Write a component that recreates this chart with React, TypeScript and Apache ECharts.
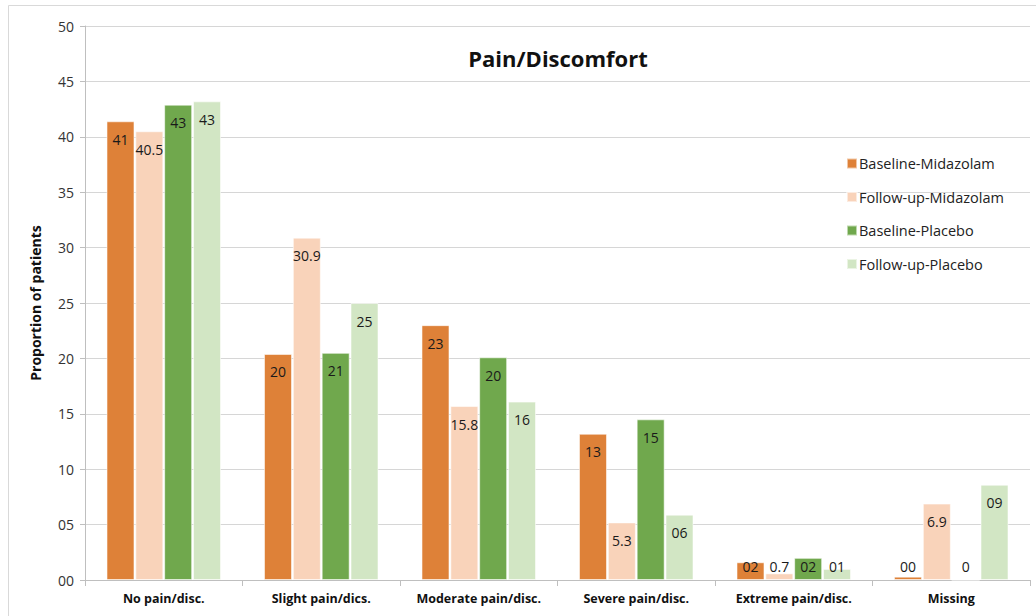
import React, { useEffect, useRef } from "react";
import * as echarts from "echarts";

const categories = [
  "No pain/disc.",
  "Slight pain/dics.",
  "Moderate pain/disc.",
  "Severe pain/disc.",
  "Extreme pain/disc.",
  "Missing",
];
const seriesNames = [
  "Baseline-Midazolam",
  "Follow-up-Midazolam",
  "Baseline-Placebo",
  "Follow-up-Placebo",
];
const baselineMidazolam = [41.4, 20.4, 23.0, 13.2, 1.6, 0.3];
const followupMidazolam = [40.5, 30.9, 15.7, 5.2, 0.6, 6.9];
const baselinePlacebo = [42.9, 20.5, 20.1, 14.5, 2.0, 0];
const followupPlacebo = [43.2, 25.0, 16.1, 5.9, 1.0, 8.6];

const baselineMidazolamLabels = ["41", "20", "23", "13", "02", "00"];
const followupMidazolamLabels = ["40.5", "30.9", "15.8", "5.3", "0.7", "6.9"];
const baselinePlaceboLabels = ["43", "21", "20", "15", "02", "0"];
const followupPlaceboLabels = ["43", "25", "16", "06", "01", "09"];

const yTicks = [0, 5, 10, 15, 20, 25, 30, 35, 40, 45, 50];

const colors = ["#DE8138", "#F9D3BA", "#70A84D", "#D2E6C4"];
const FONT = "'Open Sans', sans-serif";

export default function App() {
  const ref = useRef<HTMLDivElement>(null);
  useEffect(() => {
    if (!ref.current) return;
    const chart = echarts.init(ref.current, null, { renderer: "svg" });
    const values = [baselineMidazolam, followupMidazolam, baselinePlacebo, followupPlacebo];
    const labels = [
      baselineMidazolamLabels,
      followupMidazolamLabels,
      baselinePlaceboLabels,
      followupPlaceboLabels,
    ];
    const series = seriesNames.map((name, si) => ({
      name,
      type: "bar",
      barWidth: 28,
      barGap: "3%",
      itemStyle: { color: colors[si], borderColor: "rgba(255,255,255,0.55)", borderWidth: 1 },
      data: values[si].map((v, i) => ({
        value: v,
        label: {
          show: true,
          position: v < 3 ? "insideBottom" : "insideTop",
          distance: v < 3 ? 7 : 11,
          formatter: labels[si][i],
          color: "#1a1a1a",
          fontSize: 14,
          fontFamily: FONT,
        },
      })),
    }));
    chart.setOption({
      animation: false,
      backgroundColor: "#ffffff",
      color: colors,
      title: {
        text: "Pain/Discomfort",
        left: 553,
        textAlign: "center",
        top: 42,
        textStyle: { fontSize: 22, fontWeight: "bold", color: "#111", fontFamily: FONT },
      },
      legend: {
        orient: "vertical",
        left: 841,
        top: 151,
        itemWidth: 10,
        itemHeight: 10,
        itemGap: 18.5,
        icon: "rect",
        textStyle: { fontSize: 14.5, color: "#222", fontFamily: FONT, padding: [0, 0, 0, -3] },
        data: seriesNames,
      },
      grid: { left: 85, right: 6, top: 26, bottom: 36, containLabel: false },
      xAxis: {
        type: "category",
        data: categories,
        axisLine: { lineStyle: { color: "#bfbfbf" } },
        axisTick: { show: true, length: 6, lineStyle: { color: "#bfbfbf" } },
        axisLabel: {
          interval: 0,
          fontSize: 12.5,
          fontWeight: "bold",
          color: "#111",
          fontFamily: FONT,
          margin: 12,
        },
      },
      yAxis: {
        type: "value",
        min: 0,
        max: 50,
        interval: 5,
        name: "Proportion of patients",
        nameLocation: "middle",
        nameGap: 43,
        nameTextStyle: { fontSize: 14, fontWeight: "bold", color: "#111", fontFamily: FONT },
        axisLine: { show: true, lineStyle: { color: "#bfbfbf" } },
        axisTick: { show: true, length: 5, lineStyle: { color: "#bfbfbf" } },
        splitLine: { lineStyle: { color: "#d6d6d6", width: 1 } },
        axisLabel: {
          fontSize: 14,
          color: "#333",
          fontFamily: FONT,
          margin: 11,
          formatter: (v: number) => (yTicks.includes(v) && v < 10 ? "0" + v : String(v)),
        },
      },
      graphic: [
        {
          type: "rect",
          shape: { x: 8.5, y: 5.5, width: 1040, height: 620 },
          style: { fill: "none", stroke: "#d9d9d9", lineWidth: 1 },
          silent: true,
          z: -1,
        },
      ],
      series,
    });
    return () => chart.dispose();
  }, []);
  return (
    <div
      ref={ref}
      style={{ position: "absolute", left: 0, top: 0, width: 1036, height: 616 }}
    />
  );
}
